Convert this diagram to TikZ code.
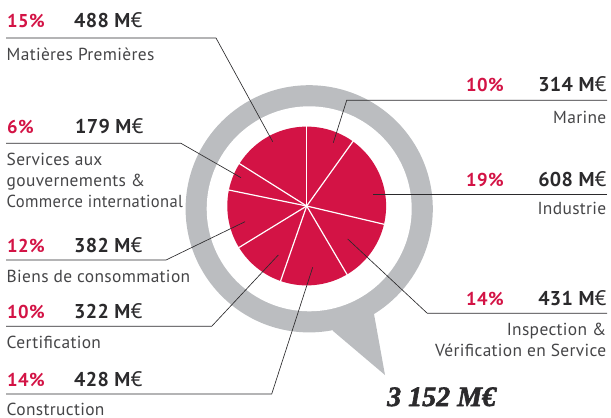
\documentclass[tikz,border=0pt]{standalone}
\usepackage{fontspec}
\newfontfamily\din[LetterSpace=2]{PT Sans}
\newfontfamily\totf[FakeBold=2]{Liberation Serif}
\definecolor{crim}{HTML}{D31345}
\definecolor{ringg}{HTML}{BBBDC0}
\definecolor{ink}{HTML}{2B2A2C}
\definecolor{soft}{HTML}{454547}
\tikzset{
  pct/.style={anchor=base west,inner sep=0pt,text=crim,font=\din\fontsize{18.6}{22}\selectfont\bfseries},
  amt/.style={anchor=base west,inner sep=0pt,text=ink,font=\din\fontsize{20}{22}\selectfont\bfseries},
  amtr/.style={amt,anchor=base east},
  lab/.style={anchor=base west,inner sep=0pt,text=soft,font=\din\fontsize{17.4}{19}\selectfont},
  labr/.style={lab,anchor=base east},
  leader/.style={draw=ink,line width=0.65pt},
  sep/.style={draw=white,line width=1.2pt}
}
\newcommand{\eur}{\textmd{\fontsize{21}{22}\selectfont €}}
\begin{document}
\begin{tikzpicture}[x=1pt,y=-1pt]
\useasboundingbox (0,0) rectangle (611,418);
\coordinate (c) at (306.7,206);
\coordinate (r) at (309.2,208.8);
% ring with tail
\fill[ringg] (r) circle[radius=123.6pt];
\fill[ringg] (374,314) -- (385,375) -- (332.7,330.7) -- (345,300) -- cycle;
\fill[white] (r) circle[radius=102.5pt];
% pie
\fill[crim] (c) circle[radius=79.4pt];
\foreach \a in {90,54.4,-13.3,-59.5,250.8,211.5,168.4,147.8}
  \draw[sep] (c) -- ++({-\a}:80);
% leader points
\foreach \n/\x/\y in {
  m1/6/38, m2/216/38, m3/272.7/141.7,
  a1/607/100.3, a2/346.7/100.3, a3/333.3/142.7,
  i1/607/194, i2/373.3/194,
  v1/607/313.3, v2/427.3/313.3, v3/347.7/239,
  s1/6/143.3, s2/181/143.3, s3/241/177.7,
  b1/6/260, b2/166/260, b3/245/221.7,
  e1/6/326.3, e2/211.7/326.3, e3/278.3/255,
  o1/6/394, o2/271.7/394, o3/312.7/267.3}
  \coordinate (\n) at (\x,\y);
\draw[leader] (m1) -- (m2) -- (m3);
\draw[leader] (a1) -- (a2) -- (a3);
\draw[leader] (i1) -- (i2);
\draw[leader] (v1) -- (v2) -- (v3);
\draw[leader] (s1) -- (s2) -- (s3);
\draw[leader] (b1) -- (b2) -- (b3);
\draw[leader] (e1) -- (e2) -- (e3);
\draw[leader] (o1) -- (o2) -- (o3);
% left texts
\node[pct] (p1) at (7,27.3) {15\%};
\node[amt] (q1) at (74,27.3) {488 M\eur};
\node[lab] (l1) at (6.5,60) {Matières Premières};
\node[pct] (p2) at (7,133.7) {6\%};
\node[amt] (q2) at (75,133.7) {179 M\eur};
\node[lab] (l2a) at (6.5,165) {Services aux};
\node[lab] (l2b) at (6.5,186) {gouvernements \&};
\node[lab] (l2c) at (6.5,207.3) {\scalebox{0.95}[1]{Commerce international}};
\node[pct] (p3) at (7,252) {12\%};
\node[amt] (q3) at (74,252) {382 M\eur};
\node[lab] (l3) at (6.5,282.3) {Biens de consommation};
\node[pct] (p4) at (7,318.3) {10\%};
\node[amt] (q4) at (74,318.3) {322 M\eur};
\node[lab] (l4) at (6.5,348.3) {Certification};
\node[pct] (p5) at (7,386.7) {14\%};
\node[amt] (q5) at (74,386.7) {428 M\eur};
\node[lab] (l5) at (6.5,415) {Construction};
% right texts
\node[pct] (p6) at (466,91) {10\%};
\node[amtr] (q6) at (607,91) {314 M\eur};
\node[labr] (l6) at (606.5,123) {Marine};
\node[pct] (p7) at (466,186) {19\%};
\node[amtr] (q7) at (607,186) {608 M\eur};
\node[labr] (l7) at (606.5,214) {Industrie};
\node[pct] (p8) at (466,305.7) {14\%};
\node[amtr] (q8) at (607,305.7) {431 M\eur};
\node[labr] (l8a) at (606.5,335) {Inspection \&};
\node[labr] (l8b) at (606.5,356.7) {Vérification en Service};
% total
\node[anchor=base west,inner sep=0pt,text=ink,font=\totf\bfseries\itshape\fontsize{28}{30}\selectfont] (t) at (387,406) {3 152 M€};
\end{tikzpicture}
\end{document}
